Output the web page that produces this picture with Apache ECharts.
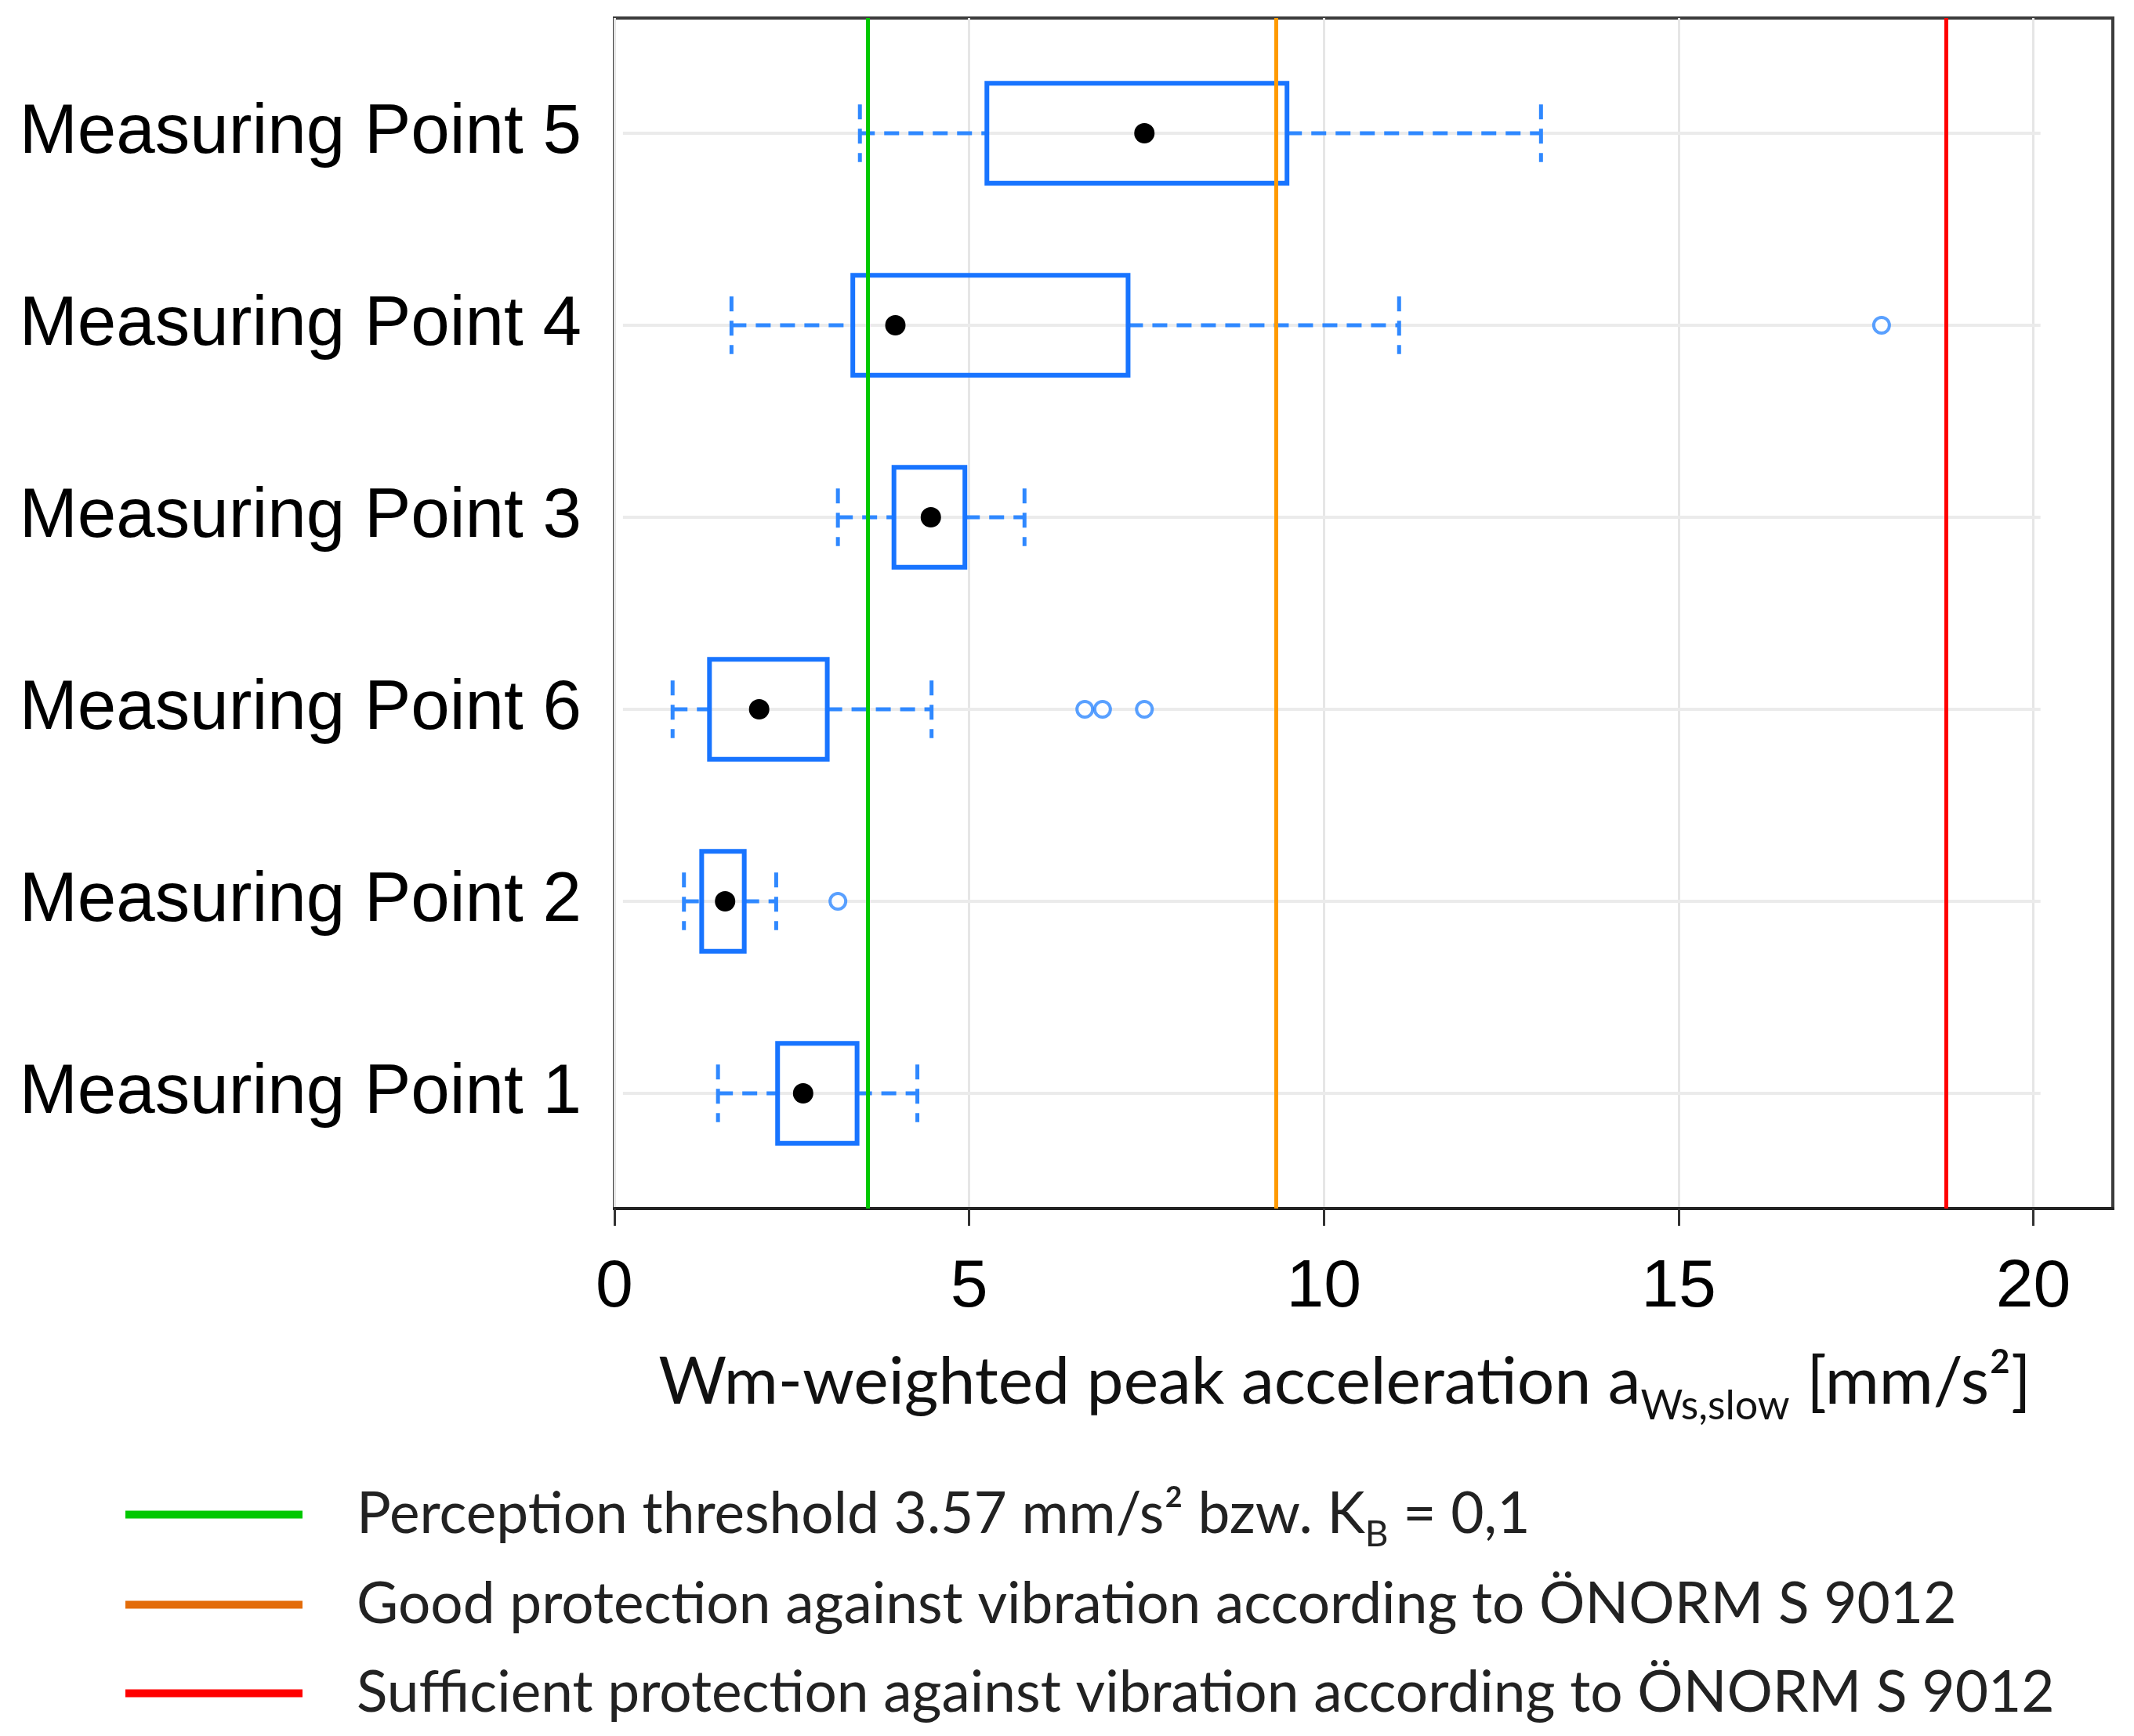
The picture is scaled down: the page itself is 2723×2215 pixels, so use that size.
<!DOCTYPE html>
<html>
<head>
<meta charset="utf-8">
<script src="https://cdn.jsdelivr.net/npm/echarts@6/dist/echarts.min.js"></script>
<style>
html,body{margin:0;padding:0;background:#fff;}
#chart{width:2723px;height:2215px;}
</style>
</head>
<body>
<div id="chart"></div>
<script>
// categories from bottom (position 1) to top (position 6)
const categories = ['Measuring Point 1','Measuring Point 2','Measuring Point 6','Measuring Point 3','Measuring Point 4','Measuring Point 5'];
const lowWhisker  = [1.46, 0.98, 0.82, 3.15, 1.65, 3.46];
const q1Values    = [2.30, 1.23, 1.34, 3.94, 3.36, 5.25];
const medianValues= [2.66, 1.56, 2.04, 4.46, 3.96, 7.47];
const q3Values    = [3.42, 1.83, 3.00, 4.94, 7.24, 9.48];
const highWhisker = [4.27, 2.28, 4.47, 5.78, 11.06, 13.06];
const outlierCategory = ['Measuring Point 2','Measuring Point 6','Measuring Point 6','Measuring Point 6','Measuring Point 4'];
const outlierValues   = [3.15, 6.63, 6.88, 7.47, 17.86];
const thresholdNames = [
  'Perception threshold 3.57 mm/s² bzw. KB = 0,1',
  'Good protection against vibration according to ÖNORM S 9012',
  'Sufficient protection against vibration according to ÖNORM S 9012'
];
const thresholdValues = [3.57, 9.33, 18.77];
const xTicks = [0, 5, 10, 15, 20];

const lineColors = ['#00c800', '#ff9a00', '#ff0000'];
const legendColors = ['#00c800', '#e36c0a', '#ff0000'];
const boxColor = '#1874ff';
const whiskerColor = '#2f88ff';

const boxData = categories.map((c, i) => [i + 1, lowWhisker[i], q1Values[i], medianValues[i], q3Values[i], highWhisker[i]]);
const outlierData = outlierValues.map((v, i) => [v, categories.indexOf(outlierCategory[i]) + 1]);
const gridRows = categories.map((c, i) => [i + 1]);

function renderBox(params, api) {
  const y = api.value(0);
  const pLo = api.coord([api.value(1), y]);
  const pQ1 = api.coord([api.value(2), y]);
  const pMed = api.coord([api.value(3), y]);
  const pQ3 = api.coord([api.value(4), y]);
  const pHi = api.coord([api.value(5), y]);
  const hh = api.size([0, 0.26])[1];
  const ch = api.size([0, 0.15])[1];
  const dash = {stroke: whiskerColor, lineWidth: 5, lineDash: [19, 12], fill: null};
  return {
    type: 'group',
    children: [
      {type: 'line', shape: {x1: pLo[0], y1: pLo[1], x2: pQ1[0], y2: pQ1[1]}, style: dash},
      {type: 'line', shape: {x1: pQ3[0], y1: pQ3[1], x2: pHi[0], y2: pHi[1]}, style: dash},
      {type: 'line', shape: {x1: pLo[0], y1: pLo[1] - ch, x2: pLo[0], y2: pLo[1] + ch}, style: dash},
      {type: 'line', shape: {x1: pHi[0], y1: pHi[1] - ch, x2: pHi[0], y2: pHi[1] + ch}, style: dash},
      {type: 'rect', shape: {x: pQ1[0], y: pQ1[1] - hh, width: pQ3[0] - pQ1[0], height: 2 * hh},
        style: {fill: null, stroke: boxColor, lineWidth: 6}},
      {type: 'circle', shape: {cx: pMed[0], cy: pMed[1], r: 13}, style: {fill: '#000'}}
    ]
  };
}

function renderRow(params, api) {
  const y = api.value(0);
  const a = api.coord([0.12, y]);
  const b = api.coord([20.1, y]);
  return {type: 'line', shape: {x1: a[0], y1: a[1], x2: b[0], y2: b[1]}, style: {stroke: '#ebebeb', lineWidth: 4}};
}

const chart = echarts.init(document.getElementById('chart'));

const legendText = {
  fontFamily: 'Lato', fontSize: 73, color: '#222', padding: [0, 0, 0, 64],
  rich: {
    t: {fontFamily: 'Lato', fontSize: 73, color: '#222', lineHeight: 86},
    s: {fontFamily: 'Lato', fontSize: 46, color: '#222', lineHeight: 86, verticalAlign: 'bottom', padding: [0, 0, -6, 0]}
  }
};
const legendCenters = [1939, 2054, 2167];
const legends = thresholdNames.map((n, i) => ({
  data: [{name: n, itemStyle: {color: legendColors[i]}}],
  left: 160, top: legendCenters[i] - 43, orient: 'vertical', padding: 0,
  icon: 'rect', itemWidth: 226, itemHeight: 10, selectedMode: false,
  textStyle: legendText,
  formatter: function (name) {
    if (name.indexOf('KB') >= 0) {
      return '{t|Perception threshold 3.57 mm/s² bzw. K}{s|B}{t| = 0,1}';
    }
    return '{t|' + name + '}';
  }
}));

const thresholdSeries = thresholdNames.map((n, i) => ({
  name: n, type: 'line', data: [], z: 6,
  color: lineColors[i],
  lineStyle: {color: lineColors[i]},
  markLine: {
    silent: true, symbol: 'none', animation: false,
    label: {show: false},
    lineStyle: {color: lineColors[i], width: 5, type: 'solid'},
    data: [{xAxis: thresholdValues[i]}]
  }
}));

chart.setOption({
  animation: false,
  backgroundColor: '#fff',
  legend: legends,
  grid: {left: 784, right: 27, top: 23, bottom: 673, show: true, borderColor: '#3c3c3c', borderWidth: 4, containLabel: false},
  xAxis: {
    type: 'value', min: 0, max: 21.12, interval: 5,
    name: 'Wm-weighted peak acceleration a{sub|Ws,slow} [mm/s²]',
    nameLocation: 'middle', nameGap: 180,
    nameTextStyle: {
      fontFamily: 'Lato', fontSize: 84, color: '#111', padding: [0, 48, 0, 0],
      rich: {
        sub: {fontFamily: 'Lato', fontSize: 52, color: '#111', verticalAlign: 'bottom', padding: [0, 0, -14, 0]}
      }
    },
    axisLine: {show: true, lineStyle: {color: '#222', width: 4}},
    axisTick: {show: true, length: 22, customValues: xTicks, lineStyle: {color: '#333', width: 3}},
    axisLabel: {customValues: xTicks, fontFamily: 'Liberation Sans', fontSize: 86, color: '#000', margin: 58},
    splitLine: {show: true, lineStyle: {color: '#e6e6e6', width: 3}}
  },
  yAxis: {
    type: 'value', min: 0.4, max: 6.6,
    axisLine: {show: false},
    axisTick: {show: false, customValues: [1, 2, 3, 4, 5, 6]},
    splitLine: {show: false},
    axisLabel: {
      customValues: [1, 2, 3, 4, 5, 6],
      fontFamily: 'Liberation Sans', fontSize: 89, color: '#000', margin: 42,
      formatter: function (v) { return categories[Math.round(v) - 1] || ''; }
    }
  },
  series: [
    {type: 'custom', renderItem: renderRow, data: gridRows, encode: {y: 0}, z: 1, silent: true},
    {type: 'custom', renderItem: renderBox, data: boxData, encode: {x: [1, 2, 3, 4, 5], y: 0}, z: 3, silent: true},
    {type: 'scatter', data: outlierData, symbol: 'circle', symbolSize: 20, z: 4, silent: true,
      itemStyle: {color: '#fff', borderColor: whiskerColor, borderWidth: 4}}
  ].concat(thresholdSeries)
});
</script>
</body>
</html>
